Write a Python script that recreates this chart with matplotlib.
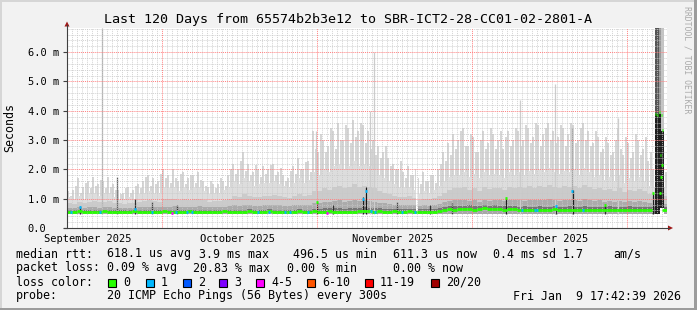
import numpy as np
import matplotlib
matplotlib.use("Agg")
import matplotlib.pyplot as plt
from matplotlib.patches import Rectangle, Polygon
from matplotlib.lines import Line2D

plt.rcParams['font.family'] = ['DejaVu Sans Mono']

W, H, DPI = 697, 310, 100

# ---------------- data ----------------
title = "Last 120 Days from 65574b2b3e12 to SBR-ICT2-28-CC01-02-2801-A"
y_ticks = [0, 1, 2, 3, 4, 5, 6]
y_tick_labels = ["0.0", "1.0 m", "2.0 m", "3.0 m", "4.0 m", "5.0 m", "6.0 m"]
month_labels = ["September 2025", "October 2025", "November 2025", "December 2025"]
month_label_day = [4.2, 34.2, 65.2, 96.2]
major_grid_day = [19, 50, 81, 112]

SMOKE_FLOOR = 0.48   # ms

# per-day smoke (ms), day 0 = 120 days ago; two light spikes per day
smoke_top = [1.25, 1.30, 1.70, 1.40, 1.60, 1.75, 1.50, 1.60, 1.75, 1.50,
             1.30, 1.20, 1.40, 1.30, 1.50, 1.60, 1.80, 1.70, 1.60, 2.00,
             1.80, 2.00, 1.60, 1.90, 1.70, 1.80, 1.90, 1.60, 1.40, 1.50,
             1.50, 1.60, 1.80, 2.20, 2.00, 2.60, 2.20, 1.90, 2.00, 2.10,
             2.00, 2.20, 1.90, 1.80, 1.70, 2.10, 2.40, 2.00, 2.30, 3.30,
             2.60, 3.00, 2.80, 3.30, 3.60, 3.00, 3.40, 3.70, 3.30, 3.50,
             3.30, 3.00, 2.80, 2.60, 2.40, 2.20, 2.00, 1.90, 2.10, 1.80,
             1.70, 1.90, 1.60, 1.80, 2.00, 2.60, 2.90, 3.20, 3.00, 3.40,
             2.80, 3.10, 2.60, 3.30, 2.90, 3.20, 3.00, 2.70, 3.30, 3.00,
             3.30, 3.00, 3.40, 3.10, 3.50, 3.20, 3.60, 3.30, 3.10, 3.40,
             3.20, 3.50, 3.00, 3.60, 3.30, 2.90, 3.10, 2.70, 2.90, 2.60,
             3.40, 2.50, 2.90, 2.60, 3.00, 2.70, 2.30, 2.00, 2.00, 2.00]

smoke_top2 = [1.10, 1.45, 1.20, 1.55, 1.35, 1.45, 1.65, 1.35, 1.40, 1.30,
              1.15, 1.35, 1.20, 1.45, 1.35, 1.75, 1.45, 1.50, 1.85, 1.70,
              1.55, 1.70, 1.85, 1.50, 1.80, 1.55, 1.65, 1.45, 1.60, 1.35,
              1.70, 1.45, 2.00, 1.85, 2.30, 1.95, 1.80, 2.15, 1.75, 1.85,
              2.15, 1.80, 2.05, 1.60, 1.95, 1.85, 2.00, 2.25, 1.90, 2.70,
              3.20, 2.60, 3.40, 2.70, 3.00, 3.50, 2.90, 3.10, 3.60, 2.90,
              2.70, 2.50, 2.40, 2.80, 2.10, 2.00, 2.30, 1.70, 1.80, 2.00,
              1.50, 1.60, 1.80, 1.55, 2.20, 2.30, 2.50, 2.70, 3.30, 2.80,
              3.20, 2.60, 3.00, 2.70, 3.40, 2.70, 3.30, 3.10, 2.80, 3.40,
              2.80, 3.50, 2.90, 3.60, 2.80, 3.40, 3.00, 2.90, 3.50, 2.80,
              3.60, 2.90, 3.40, 3.00, 2.80, 3.30, 2.60, 3.10, 2.50, 3.00,
              2.70, 3.10, 2.40, 3.20, 2.50, 3.10, 2.60, 1.90, 1.90, 1.90]

smoke_body = [1.05, 1.00, 1.10, 1.00, 1.15, 1.20, 1.10, 1.20, 1.20, 1.05,
              1.00, 0.95, 1.05, 1.00, 1.15, 1.20, 1.25, 1.20, 1.20, 1.40,
              1.35, 1.40, 1.25, 1.35, 1.30, 1.35, 1.40, 1.25, 1.15, 1.20,
              1.20, 1.30, 1.40, 1.60, 1.50, 1.70, 1.60, 1.45, 1.50, 1.55,
              1.55, 1.60, 1.50, 1.45, 1.40, 1.55, 1.70, 1.55, 1.65, 1.90,
              1.80, 2.00, 1.90, 2.10, 2.20, 2.00, 2.10, 2.30, 2.10, 2.20,
              2.10, 2.00, 1.80, 1.70, 1.60, 1.50, 1.40, 1.35, 1.40, 1.30,
              1.15, 1.25, 1.20, 1.30, 1.45, 1.60, 1.75, 1.80, 1.80, 1.90,
              1.75, 1.85, 1.70, 1.90, 1.80, 1.85, 1.80, 1.70, 1.90, 1.80,
              1.90, 1.80, 1.95, 1.85, 2.00, 1.90, 2.05, 1.90, 1.85, 1.95,
              1.90, 2.00, 1.80, 2.05, 1.90, 1.75, 1.80, 1.65, 1.75, 1.60,
              1.80, 1.55, 1.70, 1.60, 1.75, 1.60, 1.45, 1.40, 1.40, 1.40]

smoke_mid = [0.85, 0.82, 0.88, 0.84, 0.90, 0.92, 0.88, 0.90, 0.92, 0.86,
             0.84, 0.82, 0.86, 0.85, 0.90, 0.92, 0.95, 0.92, 0.90, 1.00,
             0.98, 1.00, 0.95, 0.98, 0.96, 0.98, 1.00, 0.95, 0.90, 0.92,
             0.92, 0.95, 1.00, 1.10, 1.05, 1.15, 1.10, 1.05, 1.05, 1.10,
             1.10, 1.12, 1.08, 1.05, 1.02, 1.10, 1.15, 1.10, 1.12, 1.25,
             1.25, 1.35, 1.30, 1.40, 1.45, 1.35, 1.40, 1.50, 1.40, 1.45,
             1.40, 1.35, 1.25, 1.20, 1.15, 1.10, 1.05, 1.05, 1.08, 1.02,
             0.95, 1.00, 0.98, 1.02, 1.10, 1.20, 1.30, 1.35, 1.35, 1.40,
             1.30, 1.35, 1.25, 1.40, 1.32, 1.38, 1.35, 1.28, 1.40, 1.35,
             1.40, 1.35, 1.42, 1.38, 1.45, 1.40, 1.48, 1.40, 1.36, 1.42,
             1.40, 1.45, 1.35, 1.48, 1.40, 1.32, 1.36, 1.28, 1.32, 1.25,
             1.35, 1.22, 1.30, 1.25, 1.32, 1.25, 1.15, 1.10, 1.10, 1.10]

smoke_low = [0.68, 0.67, 0.70, 0.68, 0.70, 0.71, 0.69, 0.70, 0.71, 0.68,
             0.68, 0.67, 0.69, 0.68, 0.70, 0.71, 0.72, 0.71, 0.70, 0.73,
             0.73, 0.74, 0.72, 0.73, 0.72, 0.73, 0.74, 0.72, 0.70, 0.71,
             0.71, 0.72, 0.74, 0.78, 0.76, 0.80, 0.78, 0.76, 0.76, 0.78,
             0.78, 0.79, 0.77, 0.76, 0.75, 0.78, 0.80, 0.78, 0.79, 0.85,
             0.86, 0.90, 0.88, 0.92, 0.95, 0.90, 0.92, 0.96, 0.92, 0.95,
             0.92, 0.90, 0.86, 0.84, 0.82, 0.80, 0.79, 0.78, 0.80, 0.78,
             0.76, 0.77, 0.76, 0.78, 0.82, 0.88, 0.92, 0.94, 0.94, 0.96,
             0.92, 0.94, 0.90, 0.96, 0.93, 0.95, 0.94, 0.91, 0.96, 0.94,
             0.95, 0.93, 0.96, 0.94, 0.97, 0.95, 0.98, 0.95, 0.93, 0.96,
             0.95, 0.97, 0.93, 0.98, 0.95, 0.92, 0.94, 0.90, 0.92, 0.89,
             0.93, 0.88, 0.91, 0.89, 0.92, 0.89, 0.85, 0.82, 0.82, 0.82]

smoke_core = [0.62, 0.62, 0.63, 0.62, 0.62, 0.61, 0.62, 0.63, 0.62, 0.62,
              0.62, 0.61, 0.62, 0.63, 0.62, 0.62, 0.61, 0.62, 0.62, 0.63,
              0.62, 0.61, 0.62, 0.62, 0.63, 0.62, 0.62, 0.61, 0.62, 0.62,
              0.62, 0.63, 0.62, 0.63, 0.62, 0.63, 0.64, 0.63, 0.63, 0.63,
              0.64, 0.63, 0.63, 0.62, 0.63, 0.63, 0.64, 0.63, 0.63, 0.66,
              0.66, 0.67, 0.68, 0.67, 0.68, 0.66, 0.67, 0.68, 0.68, 0.70,
              0.68, 0.67, 0.67, 0.66, 0.66, 0.66, 0.65, 0.65, 0.66, 0.65,
              0.64, 0.64, 0.64, 0.65, 0.67, 0.72, 0.75, 0.74, 0.76, 0.75,
              0.77, 0.74, 0.76, 0.78, 0.75, 0.77, 0.76, 0.74, 0.76, 0.75,
              0.73, 0.74, 0.72, 0.73, 0.74, 0.72, 0.73, 0.75, 0.72, 0.73,
              0.74, 0.72, 0.73, 0.74, 0.72, 0.73, 0.71, 0.73, 0.74, 0.72,
              0.73, 0.72, 0.74, 0.73, 0.71, 0.73, 0.72, 0.70, 0.70, 0.70]

median_rtt = [0.56, 0.56, 0.57, 0.56, 0.56, 0.55, 0.56, 0.57, 0.56, 0.56,
              0.56, 0.55, 0.56, 0.57, 0.56, 0.56, 0.55, 0.56, 0.56, 0.57,
              0.56, 0.55, 0.56, 0.56, 0.57, 0.56, 0.56, 0.55, 0.56, 0.56,
              0.56, 0.57, 0.56, 0.56, 0.55, 0.56, 0.57, 0.56, 0.56, 0.56,
              0.57, 0.56, 0.56, 0.55, 0.56, 0.56, 0.57, 0.56, 0.56, 0.57,
              0.56, 0.56, 0.57, 0.56, 0.56, 0.55, 0.56, 0.56, 0.57, 0.58,
              0.57, 0.56, 0.57, 0.56, 0.56, 0.57, 0.56, 0.56, 0.57, 0.56,
              0.56, 0.56, 0.55, 0.56, 0.57, 0.62, 0.64, 0.63, 0.65, 0.64,
              0.66, 0.63, 0.65, 0.67, 0.64, 0.66, 0.65, 0.63, 0.65, 0.64,
              0.62, 0.63, 0.61, 0.62, 0.63, 0.61, 0.62, 0.64, 0.61, 0.62,
              0.63, 0.61, 0.62, 0.63, 0.61, 0.62, 0.60, 0.62, 0.63, 0.61,
              0.62, 0.61, 0.63, 0.62, 0.60, 0.62, 0.61, np.nan, np.nan, 0.61]

# single-column spikes (day, top ms, shade)
spike_day = [6.94, 60.6, 61.4, 90.6, 97.6, 110.2, 49.8, 101.0,
             2.6, 10.0, 13.6, 17.0, 22.0, 50.0, 53.2, 59.2, 59.8,
             66.0, 72.6, 77.0, 87.8, 97.8, 101.1, 107.6, 117.2]
spike_top = [6.83, 4.0, 6.0, 4.37, 4.9, 3.75, 3.3, 3.4,
             0.75, 1.75, 1.0, 0.9, 0.8, 0.9, 0.8, 1.05, 1.4,
             0.9, 0.8, 0.85, 1.02, 0.8, 1.3, 0.8, 1.2]
spike_shade = ['#b0b0b0', '#cccccc', '#cccccc', '#cccccc', '#cccccc', '#cccccc', '#cccccc', '#a0a0a0',
               '#303030', '#555555', '#303030', '#303030', '#303030', '#151515', '#303030', '#202020', '#151515',
               '#303030', '#303030', '#303030', '#202020', '#303030', '#202020', '#303030', '#202020']

# last days: wide columns reaching the top
tail_start = [117.6, 118.4, 118.8]
tail_end = [118.4, 118.8, 119.3]
tail_top = [6.83, 6.83, 6.83]
tail_core = [3.9, 3.9, 3.3]
tail_shade = ['#555555', '#9a9a9a', '#c4c4c4']

# columns without data
gap_start = [69.8, 118.6]
gap_end = [70.2, 119.4]
gap_lo = [0.0, 0.48]
gap_hi = [3.0, 0.68]

# loss-coloured median marks (day, ms, loss class index)
mark_day = [0.8, 2.6, 6.6, 13.6, 17.0, 21.8, 24.0, 25.0, 38.2, 40.4, 43.6, 44.6, 48.2,
            59.2, 59.8, 60.8, 61.6, 67.0, 69.6, 91.0, 93.6, 94.0, 97.8, 101.0, 103.2,
            21.0, 52.0,
            50.0, 87.8, 107.6, 117.2, 117.7, 118.1, 118.5, 118.9, 119.1, 118.7, 119.0, 118.8, 118.6]
mark_val = [0.56, 0.72, 0.56, 0.66, 0.56, 0.55, 0.56, 0.56, 0.56, 0.56, 0.55, 0.56, 0.56,
            1.0, 1.27, 0.57, 0.56, 0.56, 0.56, 0.63, 0.62, 0.62, 0.75, 1.27, 0.63,
            0.50, 0.50,
            0.9, 1.02, 0.8, 1.2, 3.9, 3.85, 3.95, 3.85, 3.35, 2.5, 2.15, 1.75, 1.2]
mark_cls = [1] * 25 + [4] * 2 + [0] * 13

loss_labels = ["0", "1", "2", "3", "4-5", "6-10", "11-19", "20/20"]
loss_colors = ["#26ff00", "#00b8ff", "#0059ff", "#7e00ff", "#ff00ff", "#ff5500", "#ff0000", "#a10000"]

legend_rtt = [("median rtt:", 16), ("618.1 us avg", 107), ("3.9 ms max", 199), ("496.5 us min", 293),
              ("611.3 us now", 393), ("0.4 ms sd", 493), ("1.7", 563), ("am/s", 613)]
legend_loss = [("packet loss:", 16), ("0.09 % avg", 107), ("20.83 % max", 193),
               ("0.00 % min", 287), ("0.00 % now", 393)]
probe_text = "20 ICMP Echo Pings (56 Bytes) every 300s"
stamp_text = "Fri Jan  9 17:42:39 2026"

# ---------------- figure ----------------
fig = plt.figure(figsize=(W / DPI, H / DPI), dpi=DPI)
fig.patch.set_facecolor('#f2f2f2')


def fx(x):
    return x / W


def fy(y):
    return 1 - y / H


ax = fig.add_axes([fx(67), fy(228), 600 / W, 200 / H])
ax.set_xlim(0, 120)
ymax = 200 / 29.3
ax.set_ylim(0, ymax)
ax.set_facecolor('white')
for s in ax.spines.values():
    s.set_visible(False)

days = np.arange(120) + 0.5
fl = SMOKE_FLOOR
med = np.array(median_rtt)
ok = ~np.isnan(med)
ax.bar(days - 0.25, np.array(smoke_top) - fl, bottom=fl, width=0.32, color='#d6d6d6', lw=0, zorder=1)
ax.bar(days + 0.25, np.array(smoke_top2) - fl, bottom=fl, width=0.32, color='#d6d6d6', lw=0, zorder=1)
ax.bar(days, np.array(smoke_body) - fl, bottom=fl, width=1.0, color='#dddddd', lw=0, zorder=1.1)
ax.bar(days, np.array(smoke_mid) - fl, bottom=fl, width=1.0, color='#cbcbcb', lw=0, zorder=1.2)
ax.bar(days, np.array(smoke_low) - fl, bottom=fl, width=1.0, color='#ababab', lw=0, zorder=1.3)
ax.bar(days, np.array(smoke_core) - fl, bottom=fl, width=1.0, color='#767676', lw=0, zorder=1.4)
ax.bar(days[ok], med[ok] - fl, bottom=fl, width=1.0, color='#a8a8a8', lw=0, zorder=1.45)

ax.vlines(spike_day, fl, spike_top, colors=spike_shade, lw=0.9, zorder=1.5)

for a, b, t, c, sh in zip(tail_start, tail_end, tail_top, tail_core, tail_shade):
    ax.add_patch(Rectangle((a, fl), b - a, t - fl, color=sh, lw=0, zorder=1.6))
    ax.add_patch(Rectangle((a, fl), b - a, c - fl, color='#1e1e1e', lw=0, zorder=1.7))
for a, b, lo, hi in zip(gap_start, gap_end, gap_lo, gap_hi):
    ax.add_patch(Rectangle((a, lo), b - a, hi - lo, color='white', lw=0, zorder=1.8))

# median line, one short band per day
ax.hlines(med, days - 0.5, days + 0.5, colors=loss_colors[0], lw=2.0, zorder=4)
ax.hlines(mark_val, np.array(mark_day) - 0.15, np.array(mark_day) + 0.15,
          colors=[loss_colors[c] for c in mark_cls], lw=2.0, zorder=4.1)

# grid on top of the data
for d in range(1, 120):
    if d in major_grid_day:
        continue
    ax.axvline(d, color='#c8c8c8', lw=0.7, ls=(0, (1, 1)), alpha=0.8, zorder=3)
for v in np.arange(0.2, ymax, 0.2):
    if abs(v - round(v)) < 1e-6:
        continue
    ax.axhline(v, color='#c8c8c8', lw=0.7, ls=(0, (1, 1)), alpha=0.8, zorder=3)
for d in major_grid_day:
    ax.axvline(d, color='#ff8080', lw=0.7, ls=(0, (1, 1)), zorder=3.1)
for v in y_ticks[1:]:
    ax.axhline(v, color='#ff8080', lw=0.7, ls=(0, (1, 1)), zorder=3.1)

# ticks and labels
ax.set_yticks(y_ticks, y_tick_labels)
for lab in ax.get_yticklabels():
    lab.set_horizontalalignment('left')
ax.tick_params(axis='y', length=3, width=0.8, color='#404040', pad=25.2, labelsize=7.5)
ax.set_xticks(month_label_day, month_labels)
ax.tick_params(axis='x', length=0, pad=4, labelsize=7.5)

fig.text(fx(10), fy(128), "Seconds", fontsize=8.4, rotation=90, ha='center', va='center')

# axes lines with arrows
fig.add_artist(Line2D([fx(67), fx(67)], [fy(228), fy(25)], color='#404040', lw=0.8))
fig.add_artist(Line2D([fx(64), fx(669)], [fy(228), fy(228)], color='#404040', lw=0.8))
fig.add_artist(Polygon([(fx(64.5), fy(26.5)), (fx(69.5), fy(26.5)), (fx(67), fy(21.5))],
                       closed=True, color='#a01818', lw=0))
fig.add_artist(Polygon([(fx(668), fy(225.5)), (fx(668), fy(230.5)), (fx(673), fy(228))],
                       closed=True, color='#a01818', lw=0))

# title and side text
fig.text(fx(348), fy(19), title, fontsize=9.6, ha='center', va='center')
fig.text(fx(687.5), fy(60), "RRDTOOL / TOBI OETIKER", fontsize=5.9, color='#aaaaaa',
         rotation=270, ha='center', va='center')

# legend lines
LY = [254, 268, 282, 296]
for txt, x in legend_rtt:
    fig.text(fx(x), fy(LY[0]), txt, fontsize=8.4, ha='left', va='center')
for txt, x in legend_loss:
    fig.text(fx(x), fy(LY[1]), txt, fontsize=8.4, ha='left', va='center')
fig.text(fx(16), fy(LY[2]), "loss color:", fontsize=8.4, ha='left', va='center')
box_x = [108, 146, 183, 219, 256, 307, 365, 431]
for lab, col, bx in zip(loss_labels, loss_colors, box_x):
    fig.add_artist(Rectangle((fx(bx), fy(287)), 8 / W, 8 / H, facecolor=col,
                             edgecolor='black', lw=0.8))
    fig.text(fx(bx + 15), fy(LY[2]), lab, fontsize=8.4, ha='left', va='center')
fig.text(fx(16), fy(LY[3]), "probe:", fontsize=8.4, ha='left', va='center')
fig.text(fx(107), fy(LY[3]), probe_text, fontsize=8.4, ha='left', va='center')
fig.text(fx(513), fy(LY[3]), stamp_text, fontsize=8.4, ha='left', va='center')

# frame around the image
fig.add_artist(Rectangle((0, 0), 1, 2 / H, color='#9c9c9c', lw=0))
fig.add_artist(Rectangle((1 - 3 / W, 0), 3 / W, 1, color='#9c9c9c', lw=0))
fig.add_artist(Rectangle((0, 1 - 2 / H), 1 - 3 / W, 2 / H, color='#d6d6d6', lw=0))
fig.add_artist(Rectangle((0, 2 / H), 2 / W, 1, color='#d6d6d6', lw=0))

fig.savefig("out.png", dpi=DPI, facecolor=fig.get_facecolor())
